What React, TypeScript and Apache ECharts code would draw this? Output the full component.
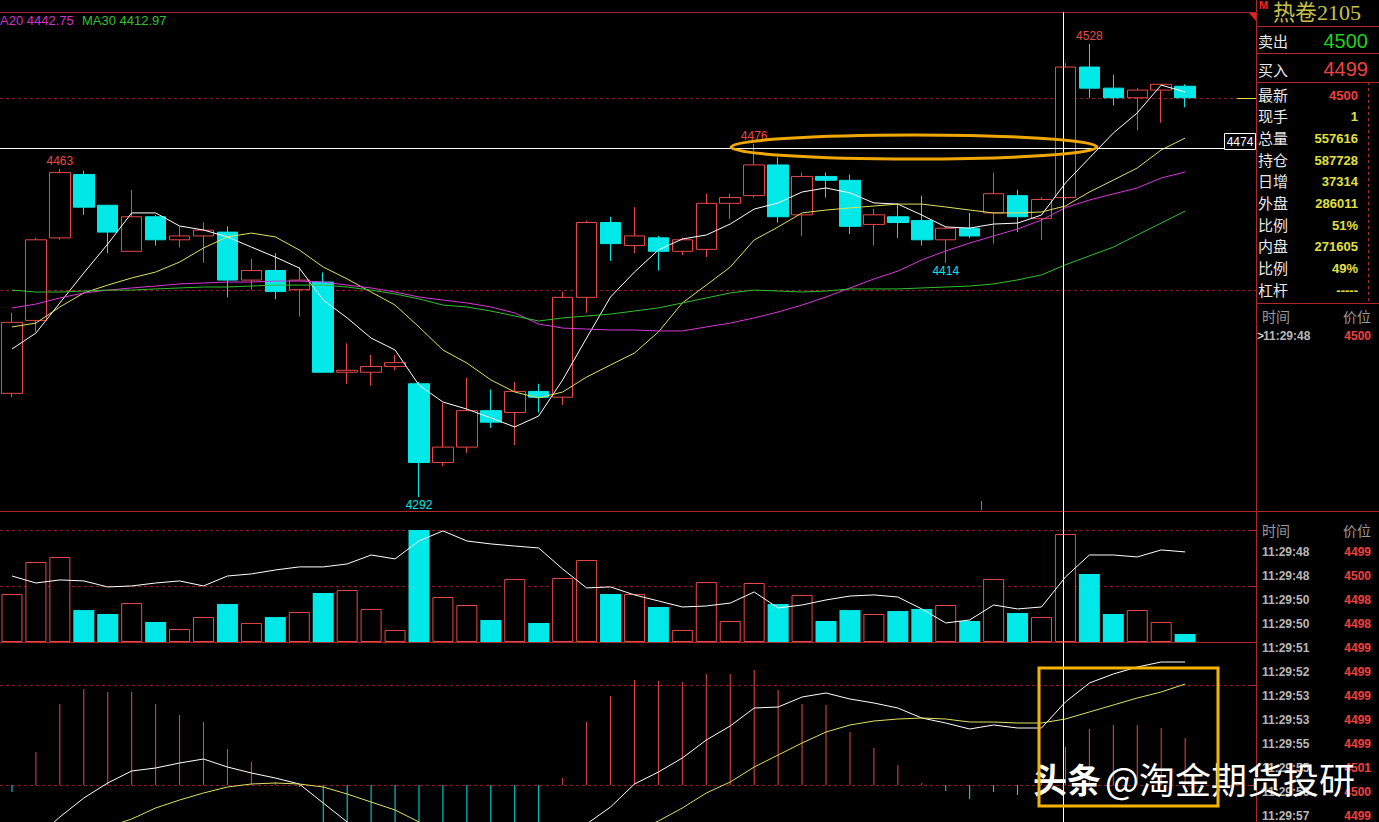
import React, { useEffect, useRef } from "react";
import * as echarts from "echarts";

// ---------- data ----------
const bars: string[] = Array.from({ length: 52 }, (_, i) => `K${i + 1}`);

const openP = [4346,4384,4427,4460,4444,4420,4438,4426,4428,4430,4405,4410,4400,4404,4357,4357,4360,4351,4310,4318,4337,4336,4347,4344,4396,4435,4423,4427,4420,4421,4445,4449,4465,4439,4459,4457,4434,4438,4436,4426,4432,4440,4449,4437,4448,4516,4505,4500,4504,4506];
const closeP = [4383,4426,4461,4443,4430,4438,4426,4428,4431,4405,4410,4399,4405,4357,4358,4360,4362,4310,4318,4337,4331,4347,4344,4396,4435,4424,4428,4420,4426,4445,4448,4465,4438,4459,4457,4433,4439,4435,4426,4432,4428,4450,4438,4447,4516,4505,4500,4504,4507,4500];
const lowP = [4344,4378,4426,4439,4419,4420,4423,4422,4414,4396,4400,4395,4386,4357,4351,4350,4358,4292,4308,4315,4328,4319,4336,4340,4388,4415,4419,4410,4418,4417,4437,4448,4435,4428,4448,4429,4423,4427,4423,4414,4427,4424,4430,4426,4447,4500,4496,4483,4487,4495];
const highP = [4388,4427,4463,4462,4444,4452,4439,4433,4435,4433,4416,4419,4412,4409,4372,4366,4366,4352,4341,4354,4348,4352,4351,4399,4436,4438,4443,4428,4427,4450,4450,4476,4469,4461,4461,4460,4442,4445,4449,4433,4440,4461,4452,4448,4518,4528,4512,4505,4507,4507];

const ma5 = [4369.1,4377.4,4393.1,4408.7,4423.8,4440.0,4440.0,4433.2,4431.1,4427.5,4422.2,4417.0,4411.3,4394.6,4385.3,4374.8,4368.6,4350.3,4341.5,4337.8,4333.2,4328.5,4334.2,4353.0,4374.8,4396.2,4409.2,4420.7,4426.4,4428.5,4434.2,4442.0,4445.2,4450.9,4453.0,4450.4,4445.2,4444.6,4438.9,4432.7,4432.1,4434.2,4434.7,4438.9,4455.6,4468.6,4481.6,4492.1,4506.6,4503.0];
const ma10 = [4380.6,4382.6,4391.0,4398.3,4402.4,4406.1,4409.2,4414.4,4421.7,4427.5,4429.5,4427.5,4420.7,4411.8,4405.6,4398.8,4392.0,4380.6,4368.6,4361.8,4353.0,4346.7,4343.6,4346.7,4354.5,4360.8,4367.0,4378.0,4393.1,4402.4,4411.8,4425.9,4432.7,4440.0,4441.5,4442.6,4443.6,4444.6,4444.6,4443.1,4441.5,4440.0,4440.0,4440.5,4443.6,4450.9,4457.1,4463.4,4472.8,4479.0];
const ma20 = [4390.5,4392.5,4395.7,4398.3,4399.8,4400.9,4401.9,4403.0,4403.5,4404.0,4404.0,4404.5,4404.5,4404.0,4402.4,4400.9,4398.8,4396.2,4394.6,4393.1,4391.0,4387.9,4382.1,4380.0,4379.5,4379.0,4379.0,4378.5,4378.5,4380.6,4382.6,4385.3,4388.4,4392.0,4396.2,4400.9,4405.6,4409.7,4415.5,4420.2,4424.3,4428.0,4431.6,4436.3,4442.75,4446.7,4449.9,4453.0,4458.2,4461.3];
const ma30 = [4399.8,4398.8,4398.8,4399.3,4399.8,4399.8,4400.4,4400.9,4401.4,4401.4,4401.9,4402.4,4402.4,4402.4,4401.4,4399.8,4397.8,4395.2,4392.0,4391.0,4388.9,4386.3,4383.7,4385.3,4386.3,4387.3,4388.9,4390.5,4393.1,4395.7,4398.3,4399.8,4399.3,4398.8,4399.3,4400.4,4400.4,4400.4,4400.9,4401.4,4401.9,4403.0,4405.1,4407.7,4412.97,4417.6,4422.2,4428.5,4434.7,4441.0];

const vol = [34300,57100,60700,22800,20000,27800,14300,9300,17800,27100,13600,17800,21400,35000,37100,23600,8600,80000,32100,26400,15700,45000,13600,45700,58500,34300,34300,25000,8600,42800,15000,42100,27100,33600,15000,22800,20000,22100,23600,26400,15000,45000,20700,17800,77100,48600,20000,22800,14300,5700];
const volMa = [47100,42100,44300,43600,39300,40000,42100,43600,40000,47100,48600,51400,53600,53600,55700,62100,59300,72100,79300,72100,70000,68500,67100,52100,38600,39300,33600,29300,25000,25700,27800,35700,24300,26400,30000,32800,33600,32100,23600,13600,15700,26400,23600,25000,46400,62100,62100,60700,65700,64300];

const macdHist = [-0.7,3.3,8.1,9.6,9.3,9.3,8.1,7.0,6.3,3.6,2.3,0.3,-0.2,-3.8,-5.6,-6.4,-6.4,-9.6,-9.2,-7.6,-6.0,-4.4,-3.8,0.7,6.3,8.9,10.5,10.4,10.3,11.1,11.1,11.5,9.5,8.1,8.0,5.3,3.7,2.0,0.2,-0.6,-1.4,-0.7,-1.0,0.3,3.8,5.6,6.0,6.0,5.7,4.7];
const dif = [-7.9,-5.3,-3.2,-1.3,0.2,1.4,1.7,2.2,2.6,1.8,1.2,0.7,0.1,-1.8,-3.7,-4.9,-5.7,-8.5,-9.5,-9.6,-9.6,-9.3,-9.4,-7.1,-3.9,-2.2,0.1,1.3,2.7,4.5,5.9,7.7,7.8,8.8,9.2,8.6,8.2,7.7,6.7,6.2,5.6,6.0,5.7,5.7,8.3,10.2,11.1,11.8,12.3,12.3];
const dea = [-7.6,-7.0,-6.1,-5.1,-4.2,-3.4,-2.3,-1.5,-0.8,-0.2,0.1,0.2,0.1,-0.2,-0.9,-1.7,-2.5,-3.7,-4.9,-5.8,-6.6,-7.1,-7.6,-7.5,-6.8,-5.9,-4.7,-3.6,-2.3,-0.8,0.3,1.8,3.0,4.2,5.3,6.0,6.4,6.6,6.7,6.6,6.3,6.3,6.2,6.2,6.6,7.3,8.0,8.7,9.3,10.1];

const priceGridLevels = [4500, 4400];
const volGridLevels = [40000, 80000];
const macdGridLevels = [10, 0];
const crossIndex = 44;
const crossPrice = 4474;
const extremes = [
  { idx: 2, kind: "high" },
  { idx: 31, kind: "high" },
  { idx: 45, kind: "high" },
  { idx: 17, kind: "low" },
  { idx: 39, kind: "low" },
];

const title = "热卷2105";
const askLabel = "卖出", askPrice = "4500";
const bidLabel = "买入", bidPrice = "4499";
const quoteLabels = ["最新", "现手", "总量", "持仓", "日增", "外盘", "比例", "内盘", "比例", "杠杆"];
const quoteValues = ["4500", "1", "557616", "587728", "37314", "286011", "51%", "271605", "49%", "-----"];
const lastTickTime = "11:29:48", lastTickPrice = "4500";
const tickTimes = ["11:29:48","11:29:48","11:29:50","11:29:50","11:29:51","11:29:52","11:29:53","11:29:53","11:29:55","11:29:55","11:29:56","11:29:57"];
const tickPrices = ["4499","4500","4498","4498","4499","4499","4499","4499","4499","4501","4500","4499"];

// ---------- styles ----------
const RED = "#e84848";
const CYAN = "#00e8e8";
const LINE_RED = "#b02828";
const DASH_RED = "#8a2020";
const SANS = '"Liberation Sans", Arial, sans-serif';
const CJK = '"Noto Sans CJK SC", sans-serif';

export default function App() {
  const ref = useRef<HTMLDivElement>(null);

  useEffect(() => {
    document.body.style.margin = "0";
    document.body.style.background = "#000";
    const chart = echarts.init(ref.current!, null, { renderer: "svg" });

    const candle = openP.map((o, i) => [o, closeP[i], lowP[i], highP[i]]);
    const volItems = vol.map((v, i) => ({
      value: v,
      itemStyle: closeP[i] >= openP[i]
        ? { color: "#000", borderColor: RED, borderWidth: 1 }
        : { color: CYAN, borderWidth: 0 },
    }));
    const histItems = macdHist.map((v) => ({ value: v, itemStyle: { color: v >= 0 ? RED : CYAN } }));
    const ln = (data: number[], color: string, xi: number) => ({
      type: "line", xAxisIndex: xi, yAxisIndex: xi, data, symbol: "none",
      lineStyle: { color, width: 1 }, itemStyle: { color }, z: 5, silent: true,
    });

    chart.setOption({
      animation: false,
      backgroundColor: "#000",
      grid: [
        { left: -3, top: 12, width: 1248, height: 498 },
        { left: -3, top: 511, width: 1248, height: 131 },
        { left: -3, top: 643, width: 1248, height: 179 },
      ],
      xAxis: [0, 1, 2].map((g) => ({ type: "category", gridIndex: g, data: bars, boundaryGap: true, show: false })),
      yAxis: [
        { gridIndex: 0, min: 4285.23, max: 4544.67, show: false },
        { gridIndex: 1, min: 0, max: 93500, show: false },
        { gridIndex: 2, min: -3.7, max: 14.2, show: false },
      ],
      series: [
        {
          type: "candlestick", xAxisIndex: 0, yAxisIndex: 0, data: candle, barWidth: 21,
          itemStyle: { color: "#000", color0: CYAN, borderColor: RED, borderColor0: CYAN, borderWidth: 1 },
          z: 2, silent: true,
        },
        ln(ma5, "#ffffff", 0),
        ln(ma10, "#e0e060", 0),
        ln(ma20, "#d838d8", 0),
        ln(ma30, "#30c030", 0),
        { type: "bar", xAxisIndex: 1, yAxisIndex: 1, data: volItems, barWidth: 21, z: 2, silent: true },
        ln(volMa, "#ffffff", 1),
        { type: "bar", xAxisIndex: 2, yAxisIndex: 2, data: histItems, barWidth: 1, z: 2, silent: true },
        ln(dif, "#ffffff", 2),
        ln(dea, "#e0e060", 2),
      ],
    });

    const X = (i: number) => chart.convertToPixel({ xAxisIndex: 0 }, bars[i]) as number;
    const Y0 = (v: number) => chart.convertToPixel({ yAxisIndex: 0 }, v) as number;
    const Y1 = (v: number) => chart.convertToPixel({ yAxisIndex: 1 }, v) as number;
    const Y2 = (v: number) => chart.convertToPixel({ yAxisIndex: 2 }, v) as number;
    const c = (v: number) => Math.round(v) + 0.5;

    const els: any[] = [];
    const line = (x1: number, y1: number, x2: number, y2: number, stroke: string, lineWidth = 1, dash?: number[], z = 50) =>
      els.push({ type: "line", silent: true, z, shape: { x1, y1, x2, y2 }, style: { stroke, lineWidth, lineDash: dash } });
    const text = (x: number, y: number, t: string, fill: string, font: string, align = "left", valign = "middle") =>
      els.push({
        type: "text", silent: true, z: 60, x, y,
        style: { text: t, fill, font, textAlign: align, textVerticalAlign: valign, align, verticalAlign: valign },
      });

    // dashed grid levels
    priceGridLevels.forEach((v) => line(0, c(Y0(v)), 1256, c(Y0(v)), DASH_RED, 1, [3, 3], 1));
    volGridLevels.forEach((v) => line(0, c(Y1(v)), 1256, c(Y1(v)), DASH_RED, 1, [3, 3], 1));
    macdGridLevels.forEach((v) => line(0, c(Y2(v)), 1256, c(Y2(v)), DASH_RED, 1, [3, 3], 1));
    [...volGridLevels.map(Y1), ...macdGridLevels.map(Y2)].forEach((y) => line(1250, c(y), 1256, c(y), LINE_RED));

    // frame lines
    line(0, 12.5, 1256, 12.5, "#a02838");
    line(1256.5, 0, 1256.5, 822, LINE_RED);
    line(0, 511.5, 1379, 511.5, LINE_RED);
    line(0, c(Y1(0)), 1256, c(Y1(0)), LINE_RED);
    els.push({ type: "polygon", silent: true, z: 55, shape: { points: [[1249, 13], [1256, 13], [1256, 21]] }, style: { fill: "#e02020" } });
    line(981.5, 501, 981.5, 510, "#808080");

    // legend
    text(0, 20, `A20 ${ma20[crossIndex].toFixed(2)}`, "#d030d0", `13px ${SANS}`);
    text(82, 20, `MA30 ${ma30[crossIndex].toFixed(2)}`, "#30c030", `13px ${SANS}`);

    // extremes labels
    extremes.forEach((e) => {
      const hi = e.kind === "high";
      const v = hi ? highP[e.idx] : lowP[e.idx];
      text(X(e.idx), hi ? Y0(v) - 8 : Y0(v) + 8, String(v), hi ? RED : CYAN, `12px ${SANS}`, "center");
    });

    // crosshair
    const cx = c(X(crossIndex) - 2);
    line(cx, 12, cx, 822, "#ffffff", 1, undefined, 58);
    const cy = c(Y0(crossPrice));
    line(0, cy, 1224, cy, "#ffffff", 1, undefined, 58);
    els.push({ type: "rect", silent: true, z: 59, shape: { x: 1224.5, y: cy - 15, width: 31, height: 16 }, style: { fill: "#000", stroke: "#ffffff", lineWidth: 1 } });
    text(1240, cy - 7, String(crossPrice), "#ffffff", `12px ${SANS}`, "center");
    // current price marker
    line(1237, c(Y0(closeP[closeP.length - 1])), 1256, c(Y0(closeP[closeP.length - 1])), "#e0e040");

    // annotations
    els.push({ type: "ellipse", silent: true, z: 70, shape: { cx: 914, cy: 147, rx: 183, ry: 12 }, style: { fill: "none", stroke: "#f0a800", lineWidth: 3 } });
    els.push({ type: "rect", silent: true, z: 70, shape: { x: 1039, y: 668, width: 179, height: 138 }, style: { fill: "none", stroke: "#f5b300", lineWidth: 3 } });

    // right panel
    text(1259, 5, "M", "#ff2020", `bold 11px ${SANS}`);
    text(1273, 12, title, "#c8c04a", `22px "Liberation Serif", "Noto Sans CJK SC", serif`);
    [26, 53, 82, 303].forEach((y) => line(1256, y + 0.5, 1379, y + 0.5, LINE_RED));
    line(1368.5, 82, 1368.5, 303, LINE_RED, 1, [3, 3]);
    text(1258, 40, askLabel, "#e8e8e8", `15px ${CJK}`);
    text(1368, 41, askPrice, "#20d020", `20px ${SANS}`, "right");
    text(1258, 69, bidLabel, "#e8e8e8", `15px ${CJK}`);
    text(1368, 69, bidPrice, "#f04040", `20px ${SANS}`, "right");
    quoteLabels.forEach((l, k) => {
      const y = 94 + k * 21.7;
      text(1258, y, l, "#e8e8e8", `15px ${CJK}`);
      text(1358, y + 1, quoteValues[k], k === 0 ? "#f04040" : "#e0e040", `bold 13px ${SANS}`, "right");
    });
    text(1262, 316, "时间", "#9a9a9a", `14px ${CJK}`);
    text(1371, 316, "价位", "#9a9a9a", `14px ${CJK}`, "right");
    text(1257, 336, ">", "#ffffff", `12px ${SANS}`);
    text(1263, 336, lastTickTime, "#b8b8b8", `bold 12px ${SANS}`);
    text(1371, 336, lastTickPrice, "#f04040", `bold 12px ${SANS}`, "right");
    text(1262, 530, "时间", "#9a9a9a", `14px ${CJK}`);
    text(1371, 530, "价位", "#9a9a9a", `14px ${CJK}`, "right");
    tickTimes.forEach((t, k) => {
      const y = 552 + k * 24;
      text(1262, y, t, "#b8b8b8", `bold 12px ${SANS}`);
      text(1371, y, tickPrices[k], "#f04040", `bold 12px ${SANS}`, "right");
    });

    // watermark
    text(1033, 778, "头条", "#ffffff", `bold 34px ${CJK}`);
    text(1105, 778, "@淘金期货投研", "#ffffff", `36px ${CJK}`);

    chart.setOption({ graphic: { elements: els } });
    return () => chart.dispose();
  }, []);

  return <div ref={ref} style={{ width: 1379, height: 822, background: "#000" }} />;
}
